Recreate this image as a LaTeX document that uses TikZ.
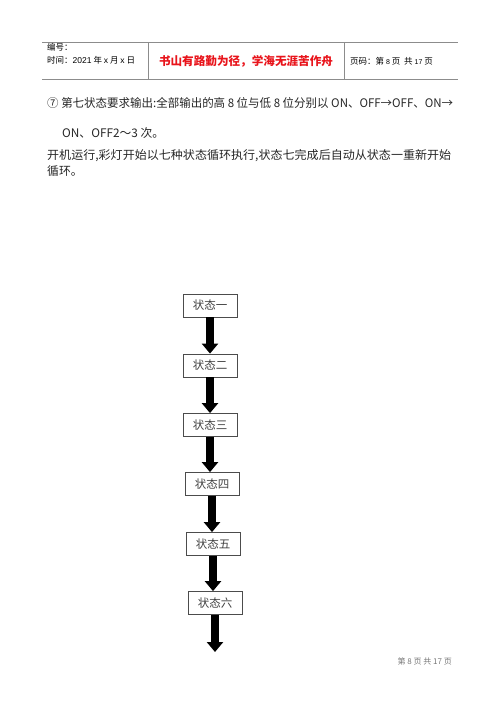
\documentclass[tikz,border=0pt]{standalone}
\usepackage{fontspec}
\setmainfont{Noto Sans CJK SC}
\newfontfamily\hdfont{Liberation Sans}
\usetikzlibrary{arrows.meta}
\definecolor{rulegray}{HTML}{8C8C8C}
\definecolor{mottored}{HTML}{E8141B}
\definecolor{footgray}{HTML}{777777}
\begin{document}
\begin{tikzpicture}[x=1pt,y=-1pt,
  hdtext/.style={anchor=west,inner sep=0pt,font=\fontsize{8.5}{10}\selectfont},
  bodytext/.style={anchor=west,inner sep=0pt,font=\fontsize{11.8}{14}\selectfont,text=black!85},
  statebox/.style={draw=black!70,line width=0.8pt,minimum width=54pt,minimum height=23pt,inner sep=0pt,font=\fontsize{11.5}{13}\selectfont,text=black!75},
  bigarrow/.style={line width=7.5pt,-{Triangle[width=16pt,length=10pt]}}]
\useasboundingbox (0,0) rectangle (500,707);
% header table
\draw[rulegray,line width=0.8pt] (42,42) -- (458,42);
\draw[rulegray,line width=0.8pt] (42,79) -- (458,79);
\draw[rulegray,line width=0.8pt] (148,42) -- (148,79);
\draw[rulegray,line width=0.8pt] (344,42) -- (344,79);
\node[hdtext] (h1) at (47,47) {编号：};
\node[hdtext] (h2) at (47,60) {时间：{\hdfont 2021} 年 {\hdfont x} 月 {\hdfont x} 日};
\node[anchor=center,inner sep=0pt,text=mottored,font=\fontsize{11.6}{13}\selectfont\bfseries] (motto) at (246,61) {书山有路勤为径，学海无涯苦作舟};
\node[hdtext] (h3) at (350,61) {页码：第 {\hdfont\fontsize{7}{8}\selectfont 8} 页\ \ 共 {\hdfont\fontsize{7}{8}\selectfont 17} 页};
% body text
\node[bodytext] (t1) at (47,103) {\resizebox{406pt}{\height}{⑦ 第七状态要求输出:全部输出的高 8 位与低 8 位分别以 ON、OFF→OFF、ON→}};
\node[bodytext] (t2) at (62,133) {ON、OFF2～3 次。};
\node[bodytext] (t3) at (47,156) {\resizebox{404pt}{\height}{开机运行,彩灯开始以七种状态循环执行,状态七完成后自动从状态一重新开始}};
\node[bodytext] (t4) at (47,171) {循环。};
% flow
\node[statebox] (b1) at (210,305.5) {状态一};
\node[statebox] (b2) at (210,365.5) {状态二};
\node[statebox] (b3) at (210,425) {状态三};
\node[statebox] (b4) at (212,484) {状态四};
\node[statebox] (b5) at (213,544) {状态五};
\node[statebox] (b6) at (215,603) {状态六};
\coordinate (end) at (214,652);
\draw[bigarrow] (b1.south) -- (b1.south |- b2.north);
\draw[bigarrow] (b2.south) -- (b2.south |- b3.north);
\draw[bigarrow] (b3.south) -- (b3.south |- b4.north);
\draw[bigarrow] (b4.south) -- (b4.south |- b5.north);
\draw[bigarrow] (b5.south) -- (b5.south |- b6.north);
\draw[bigarrow] (b6.south) -- (b6.south |- end);
% footer
\node[anchor=east,inner sep=0pt,text=footgray,font=\fontsize{8}{9}\selectfont] (foot) at (452,661) {第 8 页 共 17 页};
\end{tikzpicture}
\end{document}
